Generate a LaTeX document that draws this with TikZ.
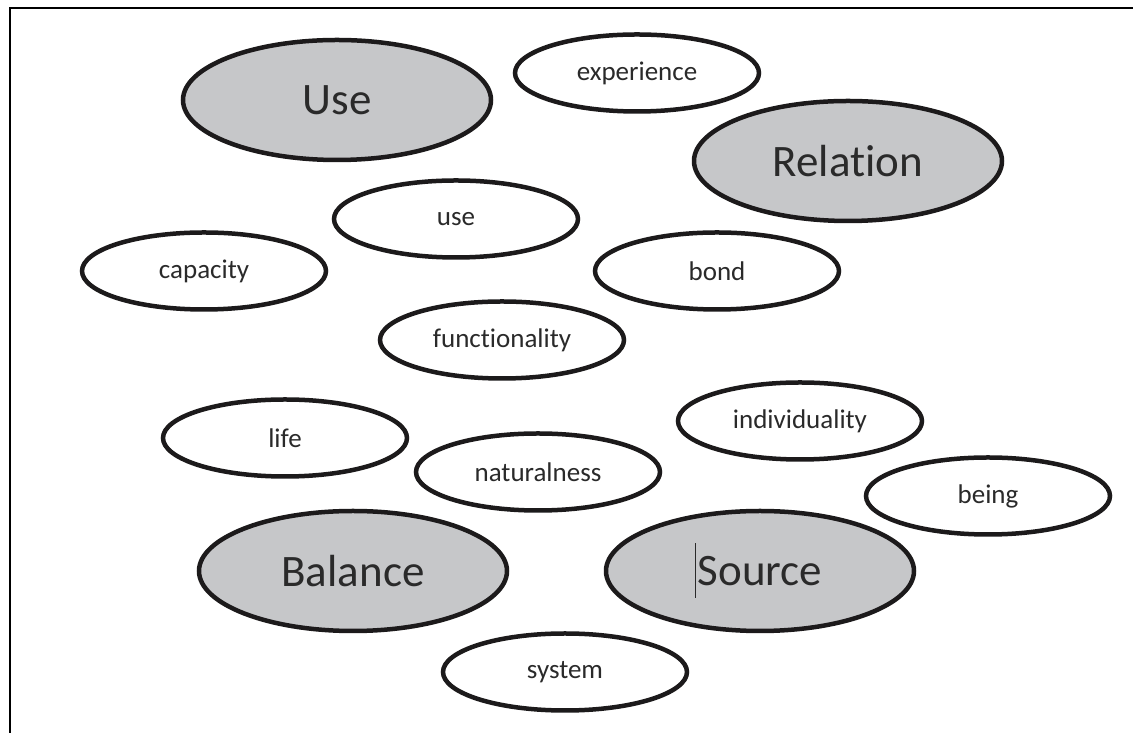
\documentclass[tikz,border=0pt]{standalone}
\usepackage{fontspec}
\setmainfont{Carlito}[Ligatures={NoCommon}]
\usetikzlibrary{shapes.geometric}
\definecolor{inkc}{HTML}{1C1A1B}
\definecolor{fillg}{HTML}{C6C7C9}
\definecolor{txtc}{HTML}{2A2A2A}
\newcommand{\tibreak}{\kern0pt{}}
\tikzset{
  smallell/.style={ellipse, draw=inkc, line width=4.5pt, fill=white, inner sep=0pt,
    minimum width=244pt, minimum height=77pt, text=txtc, font=\fontsize{27}{30}\selectfont},
  bigell/.style={ellipse, draw=inkc, line width=4.5pt, fill=fillg, inner sep=0pt,
    minimum width=308pt, minimum height=120pt, text=txtc, font=\fontsize{45}{50}\selectfont},
  framel/.style={draw=black, line width=2pt}
}
\begin{document}
\begin{tikzpicture}[x=1pt,y=1pt]
\useasboundingbox (0,0) rectangle (1133,733);
\coordinate (fb) at (10,-20);
\coordinate (ftl) at (10,725);
\coordinate (fr) at (1160,725);
\draw[framel] (fb) -- (ftl) -- (fr);

\node[bigell] (Use) at (337,633) {Use};
\node[smallell] (experience) at (637,660) {experience};
\node[bigell] (Relation) at (848,572) {Relat\tibreak ion};
\node[smallell] (use) at (456,514) {use};
\node[smallell] (capacity) at (204,462) {capacity};
\node[smallell] (bond) at (717,462) {bond};
\node[smallell] (functionality) at (502,393) {funct\tibreak ionality};
\node[smallell] (life) at (285,295) {life};
\node[smallell] (individuality) at (800,312) {individuality};
\node[smallell] (naturalness) at (538,261) {naturalness};
\node[smallell] (being) at (988,237) {being};
\node[bigell] (Balance) at (353,162) {Balance};
\node[bigell] (Source) at (760,162) {Source};
\node[smallell] (system) at (565,61) {system};

\coordinate (curA) at ([xshift=-65pt,yshift=-27pt]Source.center);
\coordinate (curB) at ([xshift=-65pt,yshift=28pt]Source.center);
\draw[line width=1pt, draw=txtc] (curA) -- (curB);
\end{tikzpicture}
\end{document}
